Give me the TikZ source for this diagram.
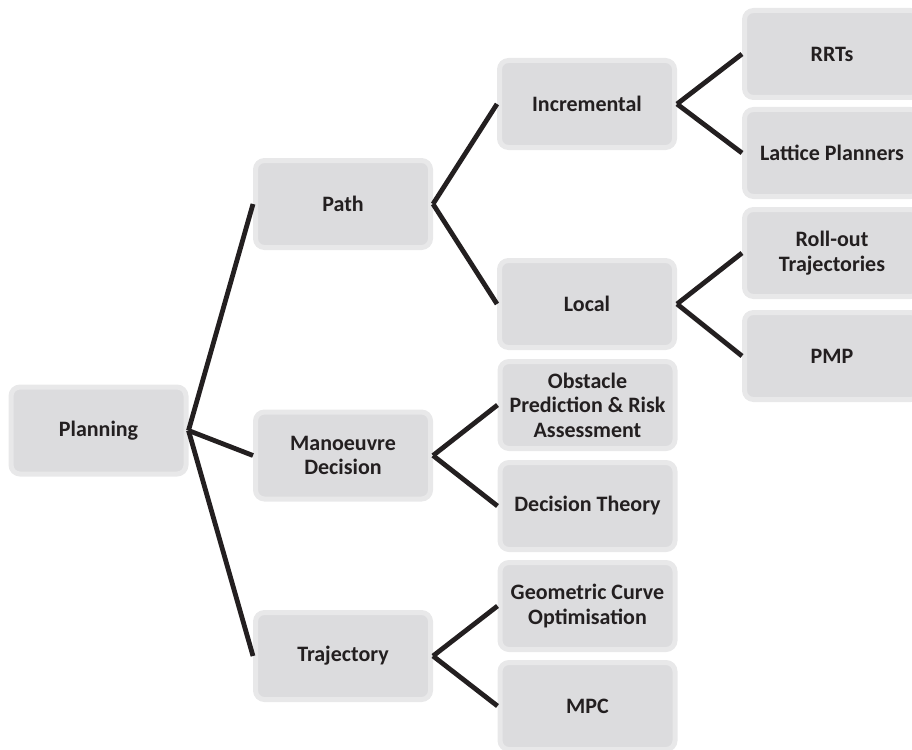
\documentclass[tikz,border=0pt]{standalone}
\usepackage{fontspec}
\setmainfont{Carlito}
\definecolor{rim}{RGB}{232,232,233}
\definecolor{boxfill}{RGB}{220,220,222}
\definecolor{ink}{RGB}{35,31,32}
\tikzset{
  box/.style={draw=rim, fill=boxfill, line width=5pt, rounded corners=9pt,
    minimum width=175pt, minimum height=87pt, inner sep=0pt, align=center,
    text=ink, font=\fontsize{22}{24.5}\selectfont\bfseries},
  link/.style={draw=ink, line width=4.8pt}
}
\begin{document}
\begin{tikzpicture}[x=1pt,y=-1pt]
\useasboundingbox (0,0) rectangle (912,749);
\clip (0,0) rectangle (912,749);
\node[box] (plan) at (98.5,430.5) {Planning};
\node[box] (path) at (343,204) {Path};
\node[box] (man) at (343,455.5) {Manoeuvre\\Decision};
\node[box] (traj) at (343,656) {Trajectory};
\node[box] (inc) at (587,104) {Incremental};
\node[box] (loc) at (587,304) {Local};
\node[box] (obs) at (587.5,405) {Obstacle\\Prediction \& Risk\\Assessment};
\node[box] (dt) at (587.5,506) {Decision Theory};
\node[box] (geo) at (587.5,606) {Geometric Curve\\Optimisation};
\node[box] (mpc) at (587.5,706) {MPC};
\node[box] (rrt) at (832,54) {RRTs};
\node[box] (lat) at (832,153) {Lattice Planners};
\node[box] (roll) at (832,253) {Roll-out\\Trajectories};
\node[box] (pmp) at (832,356) {PMP};
\draw[link] (plan.east) -- (path.west);
\draw[link] (plan.east) -- (man.west);
\draw[link] (plan.east) -- (traj.west);
\draw[link] (path.east) -- (inc.west);
\draw[link] (path.east) -- (loc.west);
\draw[link] (man.east) -- (obs.west);
\draw[link] (man.east) -- (dt.west);
\draw[link] (traj.east) -- (geo.west);
\draw[link] (traj.east) -- (mpc.west);
\draw[link] (inc.east) -- (rrt.west);
\draw[link] (inc.east) -- (lat.west);
\draw[link] (loc.east) -- (roll.west);
\draw[link] (loc.east) -- (pmp.west);
\end{tikzpicture}
\end{document}
